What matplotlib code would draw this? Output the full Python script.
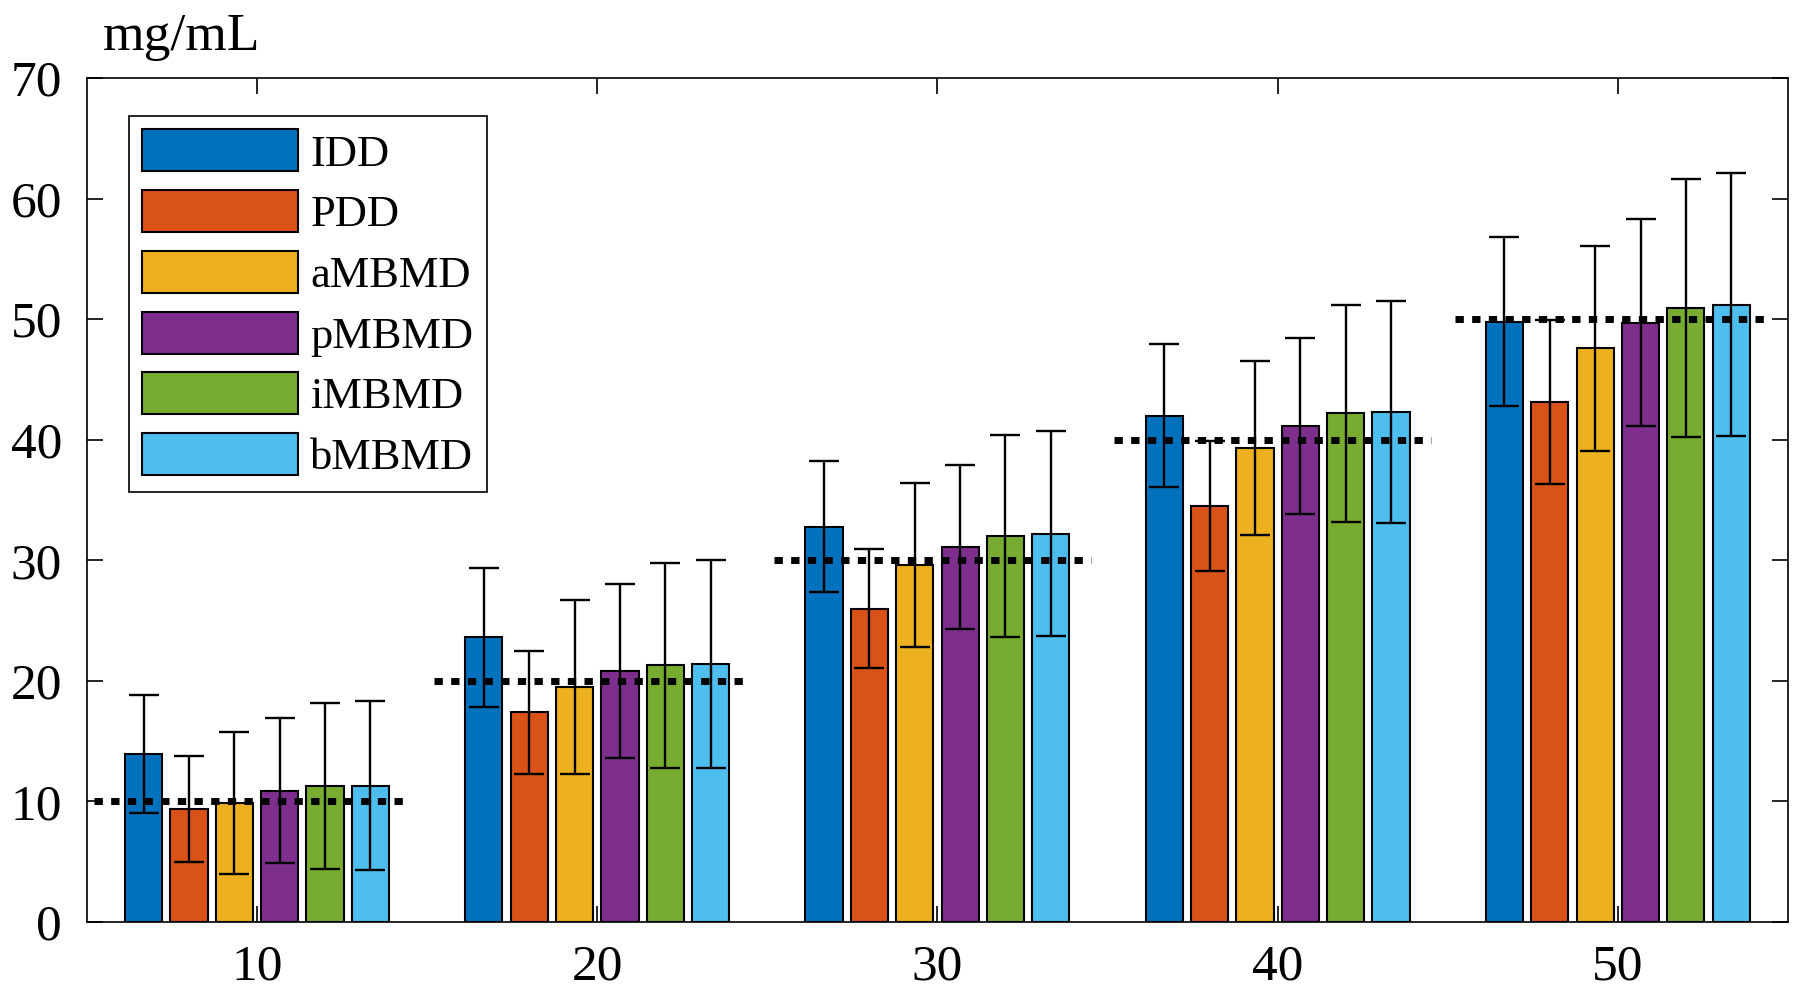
import numpy as np
import matplotlib
matplotlib.use("Agg")
import matplotlib.pyplot as plt

# ## ---- ## #
# ## Data ## #
# ## ---- ## #

concentrations = ["10", "20", "30", "40", "50"]
true_values = [10, 20, 30, 40, 50]
methods = ["IDD", "PDD", "aMBMD", "pMBMD", "iMBMD", "bMBMD"]
colors = ["#0072BD", "#D95319", "#EDB120", "#7E2F8E", "#77AC30", "#4DBEEE"]

# mean estimate per method, one value per concentration
means = {
    "IDD":   [13.9, 23.6, 32.8, 42.0, 49.8],
    "PDD":   [9.4, 17.4, 26.0, 34.5, 43.1],
    "aMBMD": [9.9, 19.5, 29.6, 39.3, 47.6],
    "pMBMD": [10.9, 20.8, 31.1, 41.1, 49.7],
    "iMBMD": [11.3, 21.3, 32.0, 42.2, 50.9],
    "bMBMD": [11.3, 21.4, 32.2, 42.3, 51.2],
}
# standard deviations (error bar half-lengths)
stds = {
    "IDD":   [4.9, 5.8, 5.4, 5.9, 7.0],
    "PDD":   [4.4, 5.1, 4.9, 5.4, 6.8],
    "aMBMD": [5.9, 7.2, 6.8, 7.2, 8.5],
    "pMBMD": [6.0, 7.2, 6.8, 7.3, 8.6],
    "iMBMD": [6.9, 8.5, 8.4, 9.0, 10.7],
    "bMBMD": [7.0, 8.6, 8.5, 9.2, 10.9],
}

# ## ----- ## #
# ## Style ## #
# ## ----- ## #

plt.rcParams["font.family"] = ["Liberation Serif", "DejaVu Serif"]

fig = plt.figure(figsize=(18, 10.07), dpi=100)
ax = fig.add_axes([0.0483, 0.0844, 0.945, 0.8381])

x = np.arange(1, len(concentrations) + 1)
n = len(methods)
group_width = 0.8
pitch = group_width / n
bar_width = pitch * 0.82

for i, m in enumerate(methods):
    pos = x - group_width / 2 + pitch * (i + 0.5)
    ax.bar(pos, means[m], width=bar_width, color=colors[i], edgecolor="black",
           linewidth=1.5, label=m, zorder=2)
    ax.errorbar(pos, means[m], yerr=stds[m], fmt="none", ecolor="black",
                elinewidth=1.7, capsize=10.5, capthick=1.7, zorder=4)

# reference lines at the true concentration
for xi, tv in zip(x, true_values):
    ax.plot([xi - 0.48, xi + 0.45], [tv, tv], color="black", linewidth=5,
            linestyle=(0, (1.2, 1.2)), zorder=3)

ax.set_xlim(0.5, 5.5)
ax.set_ylim(0, 70)
ax.set_xticks(x)
ax.set_xticklabels(concentrations)
ax.set_yticks(np.arange(0, 71, 10))
ax.set_axisbelow(True)
ax.tick_params(direction="in", length=11.5, width=1.2, top=True, right=True,
               labelsize=37)
ax.tick_params(axis="x", pad=16)
ax.tick_params(axis="y", pad=18)
for s in ax.spines.values():
    s.set_linewidth(1.2)

leg = ax.legend(loc="upper left", bbox_to_anchor=(0.0248, 0.955), fontsize=32,
                handlelength=3.5, handleheight=1.08, handletextpad=0.28,
                labelspacing=0.35, borderpad=0.3, borderaxespad=0,
                fancybox=False, edgecolor="black", framealpha=1)
leg.get_frame().set_linewidth(1.2)

fig.text(103 / 1800, 1 - 50 / 1007, "mg/mL", fontsize=38.5, va="baseline", ha="left")

fig.savefig("out.png", dpi=100)
